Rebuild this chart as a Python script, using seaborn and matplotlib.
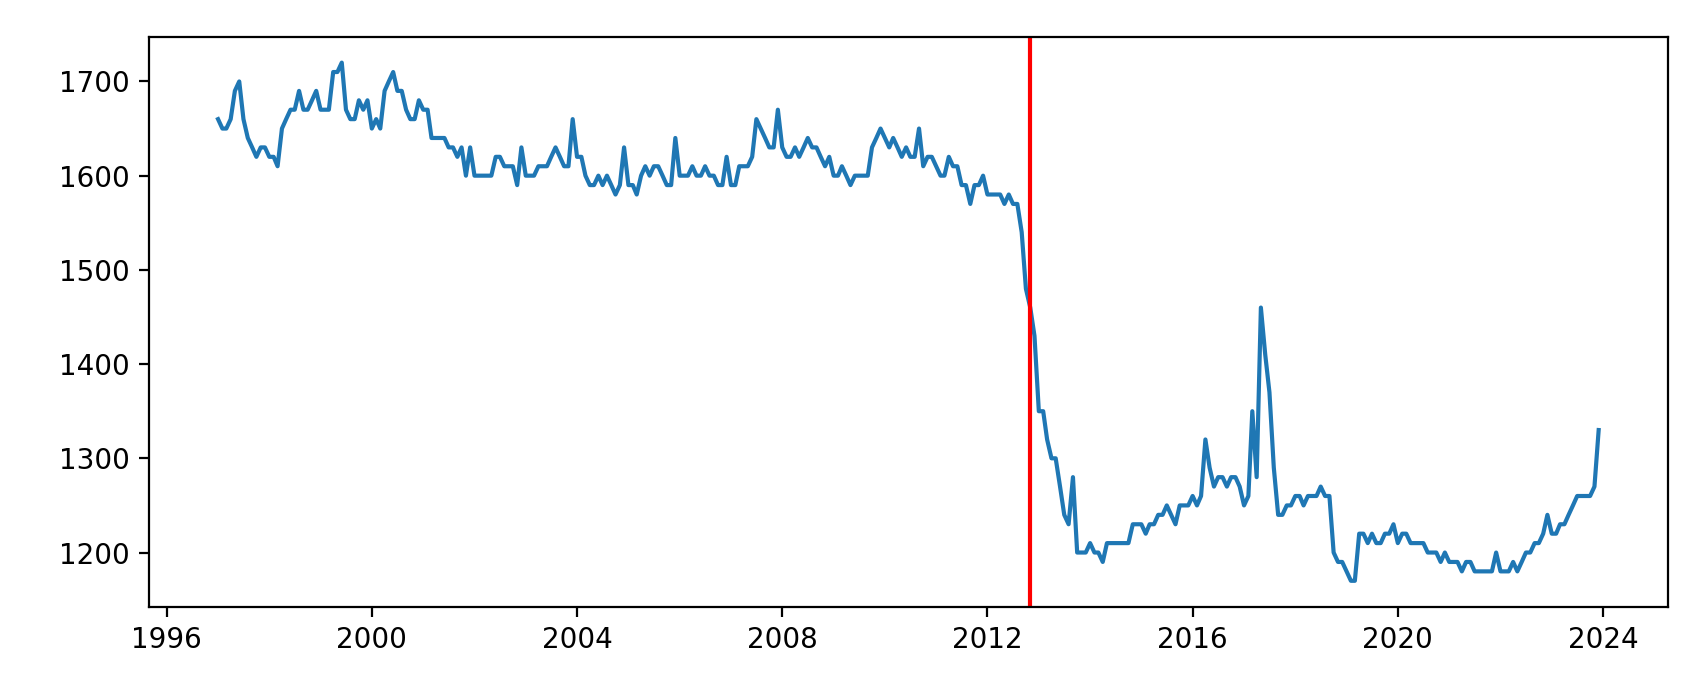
import matplotlib
matplotlib.use("Agg")
import matplotlib.pyplot as plt
import seaborn as sns
import pandas as pd

# monthly series, Jan 1997 .. Dec 2023 (one row per year)
start_month = "1997-01-01"
values = [
    1660, 1650, 1650, 1660, 1690, 1700, 1660, 1640, 1630, 1620, 1630, 1630,  # 1997
    1620, 1620, 1610, 1650, 1660, 1670, 1670, 1690, 1670, 1670, 1680, 1690,  # 1998
    1670, 1670, 1670, 1710, 1710, 1720, 1670, 1660, 1660, 1680, 1670, 1680,  # 1999
    1650, 1660, 1650, 1690, 1700, 1710, 1690, 1690, 1670, 1660, 1660, 1680,  # 2000
    1670, 1670, 1640, 1640, 1640, 1640, 1630, 1630, 1620, 1630, 1600, 1630,  # 2001
    1600, 1600, 1600, 1600, 1600, 1620, 1620, 1610, 1610, 1610, 1590, 1630,  # 2002
    1600, 1600, 1600, 1610, 1610, 1610, 1620, 1630, 1620, 1610, 1610, 1660,  # 2003
    1620, 1620, 1600, 1590, 1590, 1600, 1590, 1600, 1590, 1580, 1590, 1630,  # 2004
    1590, 1590, 1580, 1600, 1610, 1600, 1610, 1610, 1600, 1590, 1590, 1640,  # 2005
    1600, 1600, 1600, 1610, 1600, 1600, 1610, 1600, 1600, 1590, 1590, 1620,  # 2006
    1590, 1590, 1610, 1610, 1610, 1620, 1660, 1650, 1640, 1630, 1630, 1670,  # 2007
    1630, 1620, 1620, 1630, 1620, 1630, 1640, 1630, 1630, 1620, 1610, 1620,  # 2008
    1600, 1600, 1610, 1600, 1590, 1600, 1600, 1600, 1600, 1630, 1640, 1650,  # 2009
    1640, 1630, 1640, 1630, 1620, 1630, 1620, 1620, 1650, 1610, 1620, 1620,  # 2010
    1610, 1600, 1600, 1620, 1610, 1610, 1590, 1590, 1570, 1590, 1590, 1600,  # 2011
    1580, 1580, 1580, 1580, 1570, 1580, 1570, 1570, 1540, 1480, 1460, 1430,  # 2012
    1350, 1350, 1320, 1300, 1300, 1270, 1240, 1230, 1280, 1200, 1200, 1200,  # 2013
    1210, 1200, 1200, 1190, 1210, 1210, 1210, 1210, 1210, 1210, 1230, 1230,  # 2014
    1230, 1220, 1230, 1230, 1240, 1240, 1250, 1240, 1230, 1250, 1250, 1250,  # 2015
    1260, 1250, 1260, 1320, 1290, 1270, 1280, 1280, 1270, 1280, 1280, 1270,  # 2016
    1250, 1260, 1350, 1280, 1460, 1410, 1370, 1290, 1240, 1240, 1250, 1250,  # 2017
    1260, 1260, 1250, 1260, 1260, 1260, 1270, 1260, 1260, 1200, 1190, 1190,  # 2018
    1180, 1170, 1170, 1220, 1220, 1210, 1220, 1210, 1210, 1220, 1220, 1230,  # 2019
    1210, 1220, 1220, 1210, 1210, 1210, 1210, 1200, 1200, 1200, 1190, 1200,  # 2020
    1190, 1190, 1190, 1180, 1190, 1190, 1180, 1180, 1180, 1180, 1180, 1200,  # 2021
    1180, 1180, 1180, 1190, 1180, 1190, 1200, 1200, 1210, 1210, 1220, 1240,  # 2022
    1220, 1220, 1230, 1230, 1240, 1250, 1260, 1260, 1260, 1260, 1270, 1330,  # 2023
]
marker_date = "2012-11-01"

df = pd.DataFrame({
    "date": pd.date_range(start_month, periods=len(values), freq="MS"),
    "value": values,
})

fig = plt.figure(figsize=(1706 / 200, 674 / 200), dpi=200)
ax = fig.add_axes([149 / 1706, 1 - 606.7 / 674, (1667.7 - 149) / 1706, (606.7 - 36.7) / 674])

sns.lineplot(data=df, x="date", y="value", ax=ax)
ax.axvline(pd.Timestamp(marker_date), color="red")
ax.set_xlabel("")
ax.set_ylabel("")

fig.savefig("out.png", dpi=200)
